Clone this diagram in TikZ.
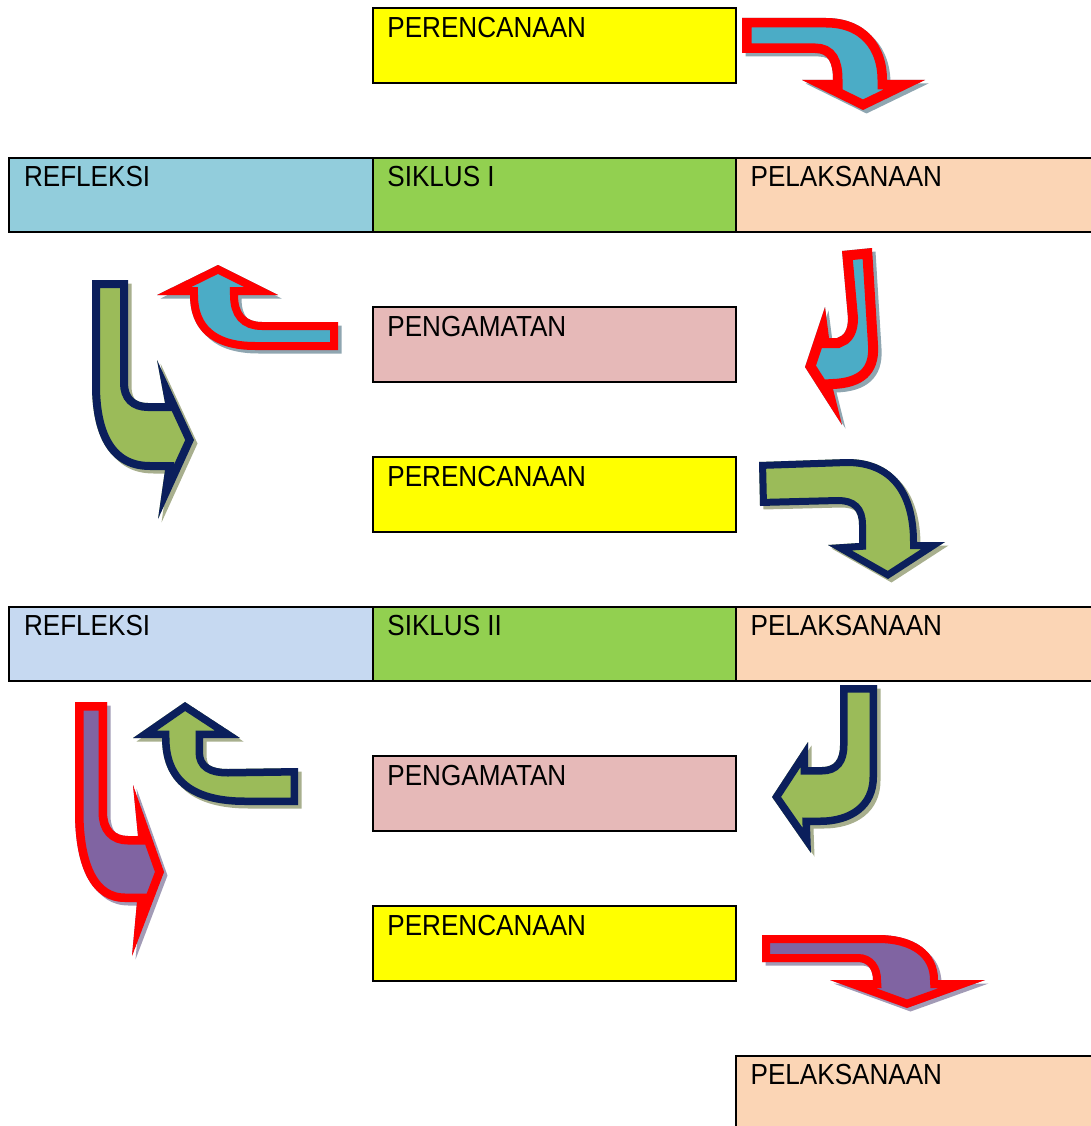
\documentclass[tikz,border=0pt]{standalone}
\usepackage{fontspec}
\setmainfont{Liberation Sans}[FakeStretch=0.9]
\definecolor{cyel}{HTML}{FFFF00}
\definecolor{crefa}{HTML}{92CDDC}
\definecolor{crefb}{HTML}{C6D9F1}
\definecolor{csik}{HTML}{92D050}
\definecolor{cpel}{HTML}{FBD5B5}
\definecolor{cpeng}{HTML}{E6B9B8}
\definecolor{acyan}{HTML}{4BACC6}
\definecolor{ared}{HTML}{FF0000}
\definecolor{agreen}{HTML}{9BBB59}
\definecolor{anavy}{HTML}{0B1F5C}
\definecolor{apurple}{HTML}{8064A2}
\definecolor{shcyan}{HTML}{8FA6B1}
\definecolor{shgreen}{HTML}{A8AF8E}
\definecolor{shpurple}{HTML}{A29BB6}
% #1 fill colour, #2 border colour, #3 shadow colour, #4 doubled border width, #5 outline path
\newcommand{\fancyarrow}[5]{%
  \fill[#3, transform canvas={shift={(3.5pt,-3.5pt)}}] #5;
  \begin{scope}
    \clip #5;
    \fill[#1] #5;
    \draw[#2, line width=#4, line join=miter] #5;
  \end{scope}}
\begin{document}
\begin{tikzpicture}[x=1pt,y=-1pt,
  box/.style={draw=black, line width=2pt, rectangle, inner sep=0pt, outer sep=0pt,
    minimum height=74.5pt, anchor=north west},
  colbox/.style={box, minimum width=363.3pt},
  lbl/.style={anchor=base west, inner sep=0pt, font=\fontsize{29}{30}\selectfont}
]
\useasboundingbox (0,0) rectangle (1091,1126);

% boxes
\node[colbox, fill=cyel] (pA) at (372.7,8.3) {};
\node[colbox, fill=crefa] (rA) at (9.3,157.7) {};
\node[colbox, fill=csik] (sA) at (372.7,157.7) {};
\node[box, fill=cpel, minimum width=365pt] (lA) at (735.9,157.7) {};
\node[colbox, fill=cpeng] (gA) at (372.7,307.3) {};
\node[colbox, fill=cyel] (pB) at (372.7,457) {};
\node[colbox, fill=crefb] (rB) at (9.3,606.7) {};
\node[colbox, fill=csik] (sB) at (372.7,606.7) {};
\node[box, fill=cpel, minimum width=365pt] (lB) at (735.9,606.7) {};
\node[colbox, fill=cpeng] (gB) at (372.7,756.3) {};
\node[colbox, fill=cyel] (pC) at (372.7,906) {};
\node[box, fill=cpel, minimum width=365pt, minimum height=85pt] (lC) at (735.9,1055.7) {};

% labels
\node[lbl] (tpA) at ([shift={(14.5,29)}]pA.north west) {PERENCANAAN};
\node[lbl] (trA) at ([shift={(14.5,29)}]rA.north west) {REFLEKSI};
\node[lbl] (tsA) at ([shift={(14.5,29)}]sA.north west) {SIKLUS I};
\node[lbl] (tlA) at ([shift={(14.5,29)}]lA.north west) {PELAKSANAAN};
\node[lbl] (tgA) at ([shift={(14.5,29)}]gA.north west) {PENGAMATAN};
\node[lbl] (tpB) at ([shift={(14.5,29)}]pB.north west) {PERENCANAAN};
\node[lbl] (trB) at ([shift={(14.5,29)}]rB.north west) {REFLEKSI};
\node[lbl] (tsB) at ([shift={(14.5,29)}]sB.north west) {SIKLUS II};
\node[lbl] (tlB) at ([shift={(14.5,29)}]lB.north west) {PELAKSANAAN};
\node[lbl] (tgB) at ([shift={(14.5,29)}]gB.north west) {PENGAMATAN};
\node[lbl] (tpC) at ([shift={(14.5,29)}]pC.north west) {PERENCANAAN};
\node[lbl] (tlC) at ([shift={(14.5,29)}]lC.north west) {PELAKSANAAN};

% arrow 1 (top, right then down)
\fancyarrow{acyan}{ared}{shcyan}{19pt}{(742,18) -- (826,18) .. controls (866,18) and (887,45) .. (887,80)
  -- (925,80) -- (863,110) -- (802,80) -- (833,80) .. controls (833,62) and (828,53) .. (815,53)
  -- (742,53) -- cycle}

% arrow 2 (right, down then left)
\fancyarrow{acyan}{ared}{shcyan}{20pt}{(842,251) -- (872,248) -- (878,345) .. controls (880,375) and (862,388) .. (833,389)
  -- (842,425) -- (805,367) -- (825,307) -- (829,338) -- (837,338)
  .. controls (844,336) and (848,330) .. (848,318) -- cycle}

% arrow 3 (left then up, cycle I)
\fancyarrow{acyan}{ared}{shcyan}{16pt}{(338,322) -- (338,350) -- (255,350) .. controls (212,350) and (190,330) .. (190,295)
  -- (157,295) -- (218,265) -- (278,295) -- (238,295)
  .. controls (238,313) and (246,322) .. (262,322) -- cycle}

% arrow 4 (left, down then right)
\fancyarrow{agreen}{anavy}{shgreen}{16pt}{(92,280) -- (128,280) -- (128,383) .. controls (128,396) and (135,403) .. (148,403)
  -- (165,403) -- (157,360) -- (194,440) -- (158,519) -- (165,470) -- (150,470)
  .. controls (112,470) and (92,440) .. (92,385) -- cycle}

% arrow 5 (right then down, after PERENCANAAN II)
\fancyarrow{agreen}{anavy}{shgreen}{14pt}{(759,462) -- (847,459) .. controls (893,459) and (917,490) .. (917,542)
  -- (945,542) -- (888,579) -- (828,545) -- (859,543) -- (859,525)
  .. controls (859,510) and (852,504) .. (838,504) -- (760,506) -- cycle}

% arrow 6 (right, down then left)
\fancyarrow{agreen}{anavy}{shgreen}{15pt}{(840,685) -- (877,685) -- (877,777) .. controls (877,808) and (853,825) .. (820,825)
  -- (810,825) -- (811,853) -- (772,797) -- (808,742) -- (808,767) -- (822,767)
  .. controls (834,767) and (840,760) .. (840,745) -- cycle}

% arrow 7 (left then up, cycle II)
\fancyarrow{agreen}{anavy}{shgreen}{15pt}{(298,768) -- (298,805) -- (245,805) .. controls (190,805) and (162,782) .. (162,738)
  -- (133,738) -- (185,702) -- (240,738) -- (203,738) -- (203,752)
  .. controls (203,764) and (211,769) .. (228,769) -- cycle}

% arrow 8 (left, down then right)
\fancyarrow{apurple}{ared}{shpurple}{17pt}{(75,702) -- (107,702) -- (107,812) .. controls (107,828) and (115,836) .. (128,836)
  -- (138,836) -- (133,785) -- (164,872) -- (132,956) -- (137,902) -- (125,902)
  .. controls (92,902) and (75,868) .. (75,812) -- cycle}

% arrow 9 (right then down, after PERENCANAAN III)
\fancyarrow{apurple}{ared}{shpurple}{16pt}{(762,935) -- (878,935) .. controls (915,935) and (938,952) .. (938,980)
  -- (985,980) -- (907,1008) -- (830,980) -- (873,980) .. controls (873,970) and (868,962) .. (858,962)
  -- (762,962) -- cycle}
\end{tikzpicture}
\end{document}
